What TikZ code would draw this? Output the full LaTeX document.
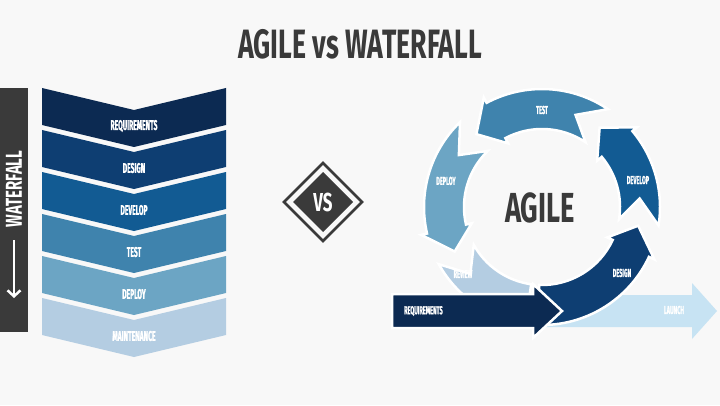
\documentclass[tikz,border=0pt]{standalone}
\usepackage{fontspec}
\newfontfamily\condfont{Fira Sans}[FakeStretch=0.65]
\newfontfamily\tagfont{Fira Sans}[FakeStretch=0.48, FakeBold=1.2]
\usetikzlibrary{arrows.meta}

\definecolor{bgcol}{HTML}{F8F8F8}
\definecolor{inkgray}{HTML}{3A3A3A}
\definecolor{navy}{HTML}{0C2A52}
\definecolor{bluedk}{HTML}{0E3E72}
\definecolor{bluemd}{HTML}{125B93}
\definecolor{bluest}{HTML}{3F83AD}
\definecolor{bluelt}{HTML}{6CA5C4}
\definecolor{bluepl}{HTML}{B4CDE2}
\definecolor{bluesky}{HTML}{C7E3F3}

% ring radii (pt)
\newcommand{\rin}{78}
\newcommand{\rmid}{98}
\newcommand{\rout}{118}
\newcommand{\win}{72}
\newcommand{\wout}{124}
% color, tail angle, head base angle, notch depth, head depth
\newcommand{\ringarrow}[5]{%
  \filldraw[fill=#1, ringedge] (#2:\rin) -- ({#2+#4}:\rmid) -- (#2:\rout)
    arc[start angle=#2, end angle=#3, radius=\rout] -- (#3:\wout) -- ({#3+#5}:\rmid)
    -- (#3:\win) -- (#3:\rin) arc[start angle=#3, end angle=#2, radius=\rin] -- cycle;}

\begin{document}
\begin{tikzpicture}[x=1pt,y=1pt,
    ringedge/.style={draw=white, line width=2.5pt, line join=miter},
    lbl/.style={text=white, font=\tagfont\bfseries\fontsize{11.5}{11.5}\selectfont, inner sep=0pt},
    wflbl/.style={text=white, font=\tagfont\bfseries\fontsize{14}{14}\selectfont, inner sep=0pt}]
    \fill[bgcol] (0,0) rectangle (720,405);
    \useasboundingbox (0,0) rectangle (720,405);

    \node[text=inkgray, font=\condfont\bfseries\fontsize{41}{41}\selectfont] (title) at (360,361) {AGILE vs WATERFALL};

    % waterfall side
    \fill[inkgray] (0,73) rectangle (28,317);
    \node[text=white, inner sep=0pt, rotate=90, font=\condfont\bfseries\fontsize{23}{23}\selectfont] (wftext) at (14,216) {WATERFALL};
    \coordinate (wftop) at (14,165);
    \coordinate (wfbot) at (14,107);
    \draw[white, line width=2.5pt, -{Straight Barb[length=6pt,width=13pt]}] (wftop) -- (wfbot);

    \foreach \i/\name/\col in {0/REQUIREMENTS/navy, 1/DESIGN/bluedk, 2/DEVELOP/bluemd,
                               3/TEST/bluest, 4/DEPLOY/bluelt, 5/MAINTENANCE/bluepl} {
        \pgfmathsetmacro{\t}{317-42*\i}
        \fill[\col] (42,\t) -- (134,\t-22) -- (226,\t) -- (226,\t-37) -- (134,\t-59) -- (42,\t-37) -- cycle;
        \node[wflbl] (wf\i) at (134,\t-38) {\name};
    }

    % vs badge
    \draw[inkgray, line width=2.5pt] (323,242) -- (362,203) -- (323,164) -- (284,203) -- cycle;
    \fill[inkgray] (323,233) -- (353,203) -- (323,173) -- (293,203) -- cycle;
    \node[text=white, font=\condfont\bfseries\fontsize{26}{26}\selectfont, inner sep=0pt] (vs) at (323,203) {VS};

    % agile side
    \fill[bluesky] (540,78) -- (692,78) -- (692,66) -- (717,94) -- (692,122) -- (692,110) -- (540,110) -- cycle;
    \begin{scope}[shift={(542,198)}]
        \filldraw[fill=bluepl, ringedge] (209:\rin) -- (223:\rmid) -- (209:\rout)
            arc[start angle=209, end angle=262, radius=\rout] -- (262:\rin)
            arc[start angle=262, end angle=209, radius=\rin] -- cycle;
        \ringarrow{bluelt}{134}{193}{14}{14}
        \ringarrow{bluest}{56}{118}{14}{14}
        \ringarrow{bluemd}{-9}{40}{14}{14}
        \ringarrow{bluedk}{268}{335}{0}{14}
        \node[lbl] (test) at (90:97) {TEST};
        \node[lbl] (deploy) at (164.8:99.5) {DEPLOY};
        \node[lbl] (develop) at (15.7:99.7) {DEVELOP};
        \node[lbl] (design) at (-39.5:103.7) {DESIGN};
        \node[lbl] (review) at (220.3:103.6) {REVIEW};
    \end{scope}
    \filldraw[fill=navy, ringedge] (392,77) -- (533,77) -- (533,67) -- (562,94) -- (533,121) -- (533,111) -- (392,111) -- cycle;
    \node[lbl, anchor=west] (req) at (404,94) {REQUIREMENTS};
    \node[lbl] (launch) at (674,95) {LAUNCH};
    \node[text=inkgray, font=\condfont\bfseries\fontsize{42}{42}\selectfont] (agile) at (540,197) {AGILE};
\end{tikzpicture}
\end{document}
